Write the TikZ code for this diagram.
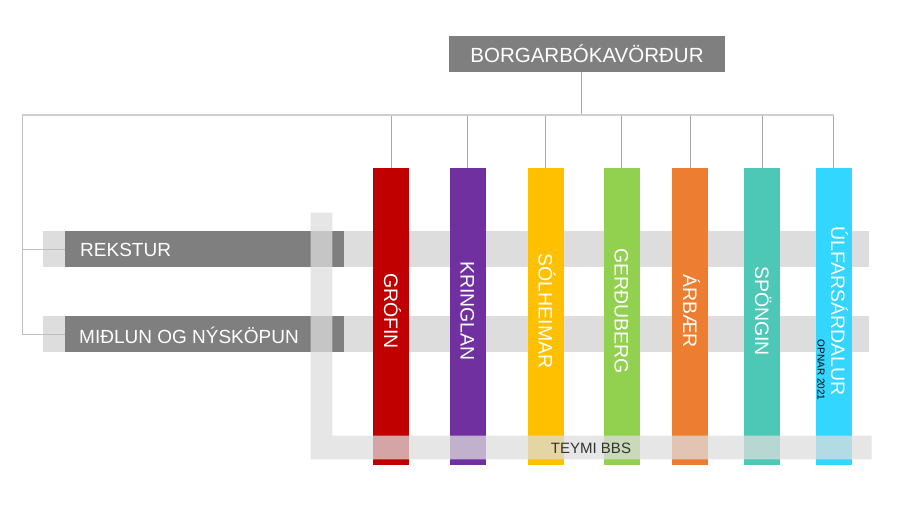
\documentclass[tikz,border=0pt]{standalone}
\usepackage{fontspec}
\setmainfont{Liberation Sans}
\definecolor{cGrofin}{HTML}{C00000}
\definecolor{cKringlan}{HTML}{7030A0}
\definecolor{cSolheimar}{HTML}{FFC000}
\definecolor{cGerdu}{HTML}{92D050}
\definecolor{cArbaer}{HTML}{ED7D31}
\definecolor{cSpong}{HTML}{4DC7B6}
\definecolor{cUlfars}{HTML}{33D6FF}
\definecolor{darkbox}{HTML}{7F7F7F}
\definecolor{lightband}{HTML}{DDDDDD}
\definecolor{linegray}{HTML}{A8A8A8}
\definecolor{busgray}{HTML}{CFCFCF}
\tikzset{
  box/.style={draw=none, inner sep=0pt, outer sep=0pt},
  column/.style={box, minimum width=36pt, minimum height=297pt, anchor=north},
  coltext/.style={rotate=-90, text=white, inner sep=0pt, text height=14pt, text depth=0pt,
    font=\fontsize{19.5}{20}\selectfont},
  conn/.style={draw=linegray, line width=0.8pt},
  bus/.style={draw=busgray, line width=1.6pt},
  label/.style={text=white, inner sep=0pt, anchor=west, font=\fontsize{19}{20}\selectfont},
}
\begin{document}
\begin{tikzpicture}[x=1pt, y=-1pt]
\useasboundingbox (0,0) rectangle (900,505);
% bus
\coordinate (busL) at (22,115);
\coordinate (busR) at (833.5,115);
\coordinate (topdrop) at (581.5,72);
% top box
\node[box, fill=darkbox, minimum width=276pt, minimum height=36pt, text=white,
  font=\fontsize{20.5}{21}\selectfont] (top) at (587,54) {BORGARBÓKAVÖRÐUR};
% light bands
\node[box, fill=lightband, minimum width=826pt, minimum height=36pt] (rekband) at (456,249) {};
\node[box, fill=lightband, minimum width=826pt, minimum height=36pt] (midband) at (456,334) {};
% dark boxes
\node[box, fill=darkbox, minimum width=279pt, minimum height=36pt] (rek) at (204.5,249) {};
\node[box, fill=darkbox, minimum width=279pt, minimum height=36pt] (mid) at (204.5,334) {};
\node[label] (rektext) at (80,250) {REKSTUR};
\node[label] (midtext) at (79,335) {MIÐLUN OG NÝSKÖPUN};
% columns
\node[column, fill=cGrofin] (c1) at (391,168) {};
\node[column, fill=cKringlan] (c2) at (467.7,168) {};
\node[column, fill=cSolheimar] (c3) at (545.5,168) {};
\node[column, fill=cGerdu] (c4) at (621.5,168) {};
\node[column, fill=cArbaer] (c5) at (690,168) {};
\node[column, fill=cSpong] (c6) at (762,168) {};
\node[column, fill=cUlfars] (c7) at (833.5,168) {};
% connectors
\draw[conn] (topdrop) -- (topdrop |- busL);
\foreach \c in {c1,c2,c3,c4,c5,c6,c7}{
  \draw[conn] (\c.north |- busL) -- (\c.north);
}
\draw[conn, draw=busgray!80!gray] (busL) |- (mid.west);
\draw[conn, draw=busgray!80!gray] (busL |- rek.west) -- (rek.west);
\draw[bus] (busL) -- (busR);
% L-shaped team band
\fill[lightband, fill opacity=0.75] (310.7,212.7) -- (332.3,212.7) -- (332.3,435.7)
  -- (871.7,435.7) -- (871.7,459.3) -- (310.7,459.3) -- cycle;
\node[inner sep=0pt, text=black!80, font=\fontsize{15}{16}\selectfont] (teymi) at (591,448) {TEYMI BBS};
% column texts
\node[coltext] (t1) at (c1 |- 0,311) {GRÓFIN};
\node[coltext] (t2) at (c2 |- 0,311) {KRINGLAN};
\node[coltext] (t3) at (c3 |- 0,311) {SÓLHEIMAR};
\node[coltext] (t4) at (c4 |- 0,311) {GERÐUBERG};
\node[coltext] (t5) at (c5 |- 0,311) {ÁRBÆR};
\node[coltext] (t6) at (c6 |- 0,311) {SPÖNGIN};
\node[coltext] (t7) at (838,311) {ÚLFARSÁRDALUR};
\node[rotate=-90, inner sep=0pt, text=black, font=\fontsize{10}{11}\selectfont] (opnar) at (821,370) {OPNAR 2021};
\end{tikzpicture}
\end{document}
